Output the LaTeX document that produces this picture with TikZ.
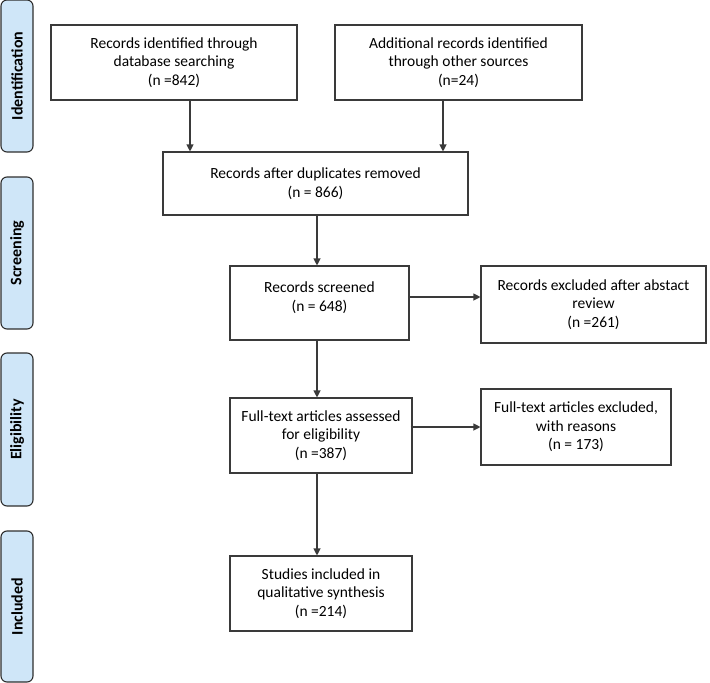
\documentclass[tikz,border=0pt]{standalone}
\usepackage{fontspec}
\setmainfont{Carlito}
\usetikzlibrary{arrows.meta}
\definecolor{boxline}{HTML}{3A3A3A}
\definecolor{bandfill}{HTML}{CFE6F8}
\definecolor{bandline}{HTML}{2E2E2E}
\begin{document}
\begin{tikzpicture}[x=1pt,y=-1pt,
  box/.style={draw=boxline, line width=1.1pt, align=center, inner sep=0pt,
    font=\fontsize{15.5}{18.5}\selectfont},
  band/.style={draw=bandline, fill=bandfill, rounded corners=6pt, line width=1.1pt,
    minimum width=32pt, inner sep=0pt},
  bandtext/.style={rotate=90, font=\fontsize{16}{18}\selectfont\bfseries},
  arr/.style={-{Triangle[length=7pt,width=7pt]}, line width=1.1pt, draw=boxline}]
\useasboundingbox (0,0) rectangle (710,683);

% side bands
\node[band, minimum height=152pt] (b1) at (17,76) {};
\node[bandtext] (t1) at (b1) {Identification};
\node[band, minimum height=152pt] (b2) at (17,253) {};
\node[bandtext] (t2) at (b2) {Screening};
\node[band, minimum height=153pt] (b3) at (17,429.5) {};
\node[bandtext] (t3) at (b3) {Eligibility};
\node[band, minimum height=151pt] (b4) at (17,606.5) {};
\node[bandtext] (t4) at (b4) {Included};

% boxes
\node[box, minimum width=246pt, minimum height=75pt] (A) at (174,62.5)
  {Records identified through\\database searching\\(n =842)};
\node[box, minimum width=247pt, minimum height=75pt] (B) at (458.5,62.5)
  {Additional records identified\\through other sources\\(n=24)};
\node[box, minimum width=305pt, minimum height=63pt] (C) at (315.5,183.5)
  {Records after duplicates removed\\(n = 866)};
\node[box, minimum width=179pt, minimum height=74pt] (D) at (319.5,303)
  {Records screened\\(n = 648)\\[-6pt]};
\node[box, minimum width=225pt, minimum height=77pt] (E) at (593.5,304.5)
  {Records excluded after abstact\\review\\(n =261)};
\node[box, minimum width=182pt, minimum height=75pt] (F) at (321,435.5)
  {Full-text articles assessed\\for eligibility\\(n =387)};
\node[box, minimum width=190pt, minimum height=76pt] (G) at (576,427)
  {Full-text articles excluded,\\with reasons\\(n = 173)};
\node[box, minimum width=182pt, minimum height=75pt] (H) at (321,593.5)
  {Studies included in\\qualitative synthesis\\(n =214)};

% arrows
\draw[arr] ([xshift=16pt]A.south) -- ([xshift=16pt]A.south |- C.north);
\draw[arr] ([xshift=-15.5pt]B.south) -- ([xshift=-15.5pt]B.south |- C.north);
\draw[arr] ([xshift=-2.5pt]D.north |- C.south) -- ([xshift=-2.5pt]D.north);
\draw[arr] ([yshift=6pt]D.east) -- ([yshift=6pt]D.east -| E.west);
\draw[arr] ([xshift=-2.5pt]D.south) -- ([xshift=-4pt]F.north);
\draw[arr] ([xshift=-2pt]F.east |- G.west) -- (G.west);
\draw[arr] ([xshift=-4pt]F.south) -- ([xshift=-4pt]H.north);
\end{tikzpicture}
\end{document}
